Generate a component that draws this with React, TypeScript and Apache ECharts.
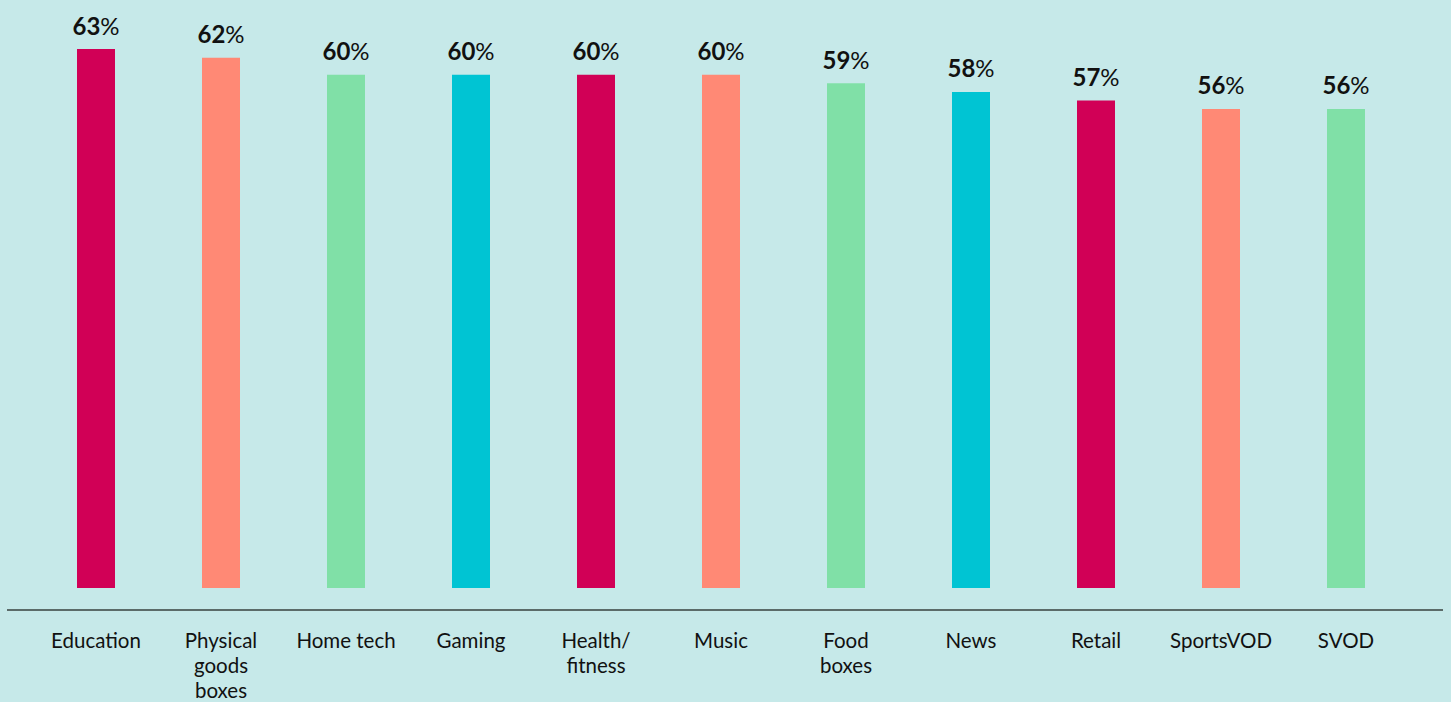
import React, { useEffect, useRef } from "react";
import * as echarts from "echarts";

const categories = [
  "Education",
  "Physical\ngoods\nboxes",
  "Home tech",
  "Gaming",
  "Health/\nfitness",
  "Music",
  "Food\nboxes",
  "News",
  "Retail",
  "SportsVOD",
  "SVOD",
];
const values = [63, 62, 60, 60, 60, 60, 59, 58, 57, 56, 56];
const palette = ["#D10056", "#FF8975", "#80E0A7", "#00C4D3"];

export default function App() {
  const ref = useRef<HTMLDivElement>(null);
  useEffect(() => {
    if (!ref.current) return;
    const chart = echarts.init(ref.current, null, { renderer: "svg" });
    chart.setOption({
      animation: false,
      backgroundColor: "#C6E9E9",
      textStyle: { fontFamily: "Lato" },
      grid: { left: 33.5, right: 42.5, top: 32, bottom: 105 },
      xAxis: {
        type: "category",
        data: categories,
        axisLine: { show: false },
        axisTick: { show: false },
        axisLabel: {
          interval: 0,
          margin: 39,
          fontSize: 20.5,
          lineHeight: 25,
          color: "#111",
          fontFamily: "Lato",
          verticalAlign: "top",
        },
      },
      yAxis: {
        type: "value",
        min: 0,
        max: 65,
        show: false,
        splitLine: { show: false },
      },
      graphic: [
        {
          type: "line",
          shape: { x1: 7, y1: 610, x2: 1443, y2: 610 },
          style: { stroke: "#5B6B69", lineWidth: 2 },
          silent: true,
        },
      ],
      series: [
        {
          type: "bar",
          barWidth: 38,
          data: values.map((v, i) => ({
            value: v,
            itemStyle: { color: palette[i % palette.length] },
          })),
          label: {
            show: true,
            position: "top",
            distance: 12,
            formatter: (p: any) => `{b|${p.value}}{n|%}`,
            rich: {
              b: {
                fontSize: 24,
                fontWeight: "bold",
                color: "#111",
                fontFamily: "Lato",
                lineHeight: 24,
              },
              n: {
                fontSize: 24,
                fontWeight: "normal",
                color: "#111",
                fontFamily: "Lato",
                lineHeight: 24,
              },
            },
          },
        },
      ],
    });
    return () => chart.dispose();
  }, []);
  return <div ref={ref} style={{ width: 1451, height: 702, position: "absolute", left: 0, top: 0 }} />;
}
